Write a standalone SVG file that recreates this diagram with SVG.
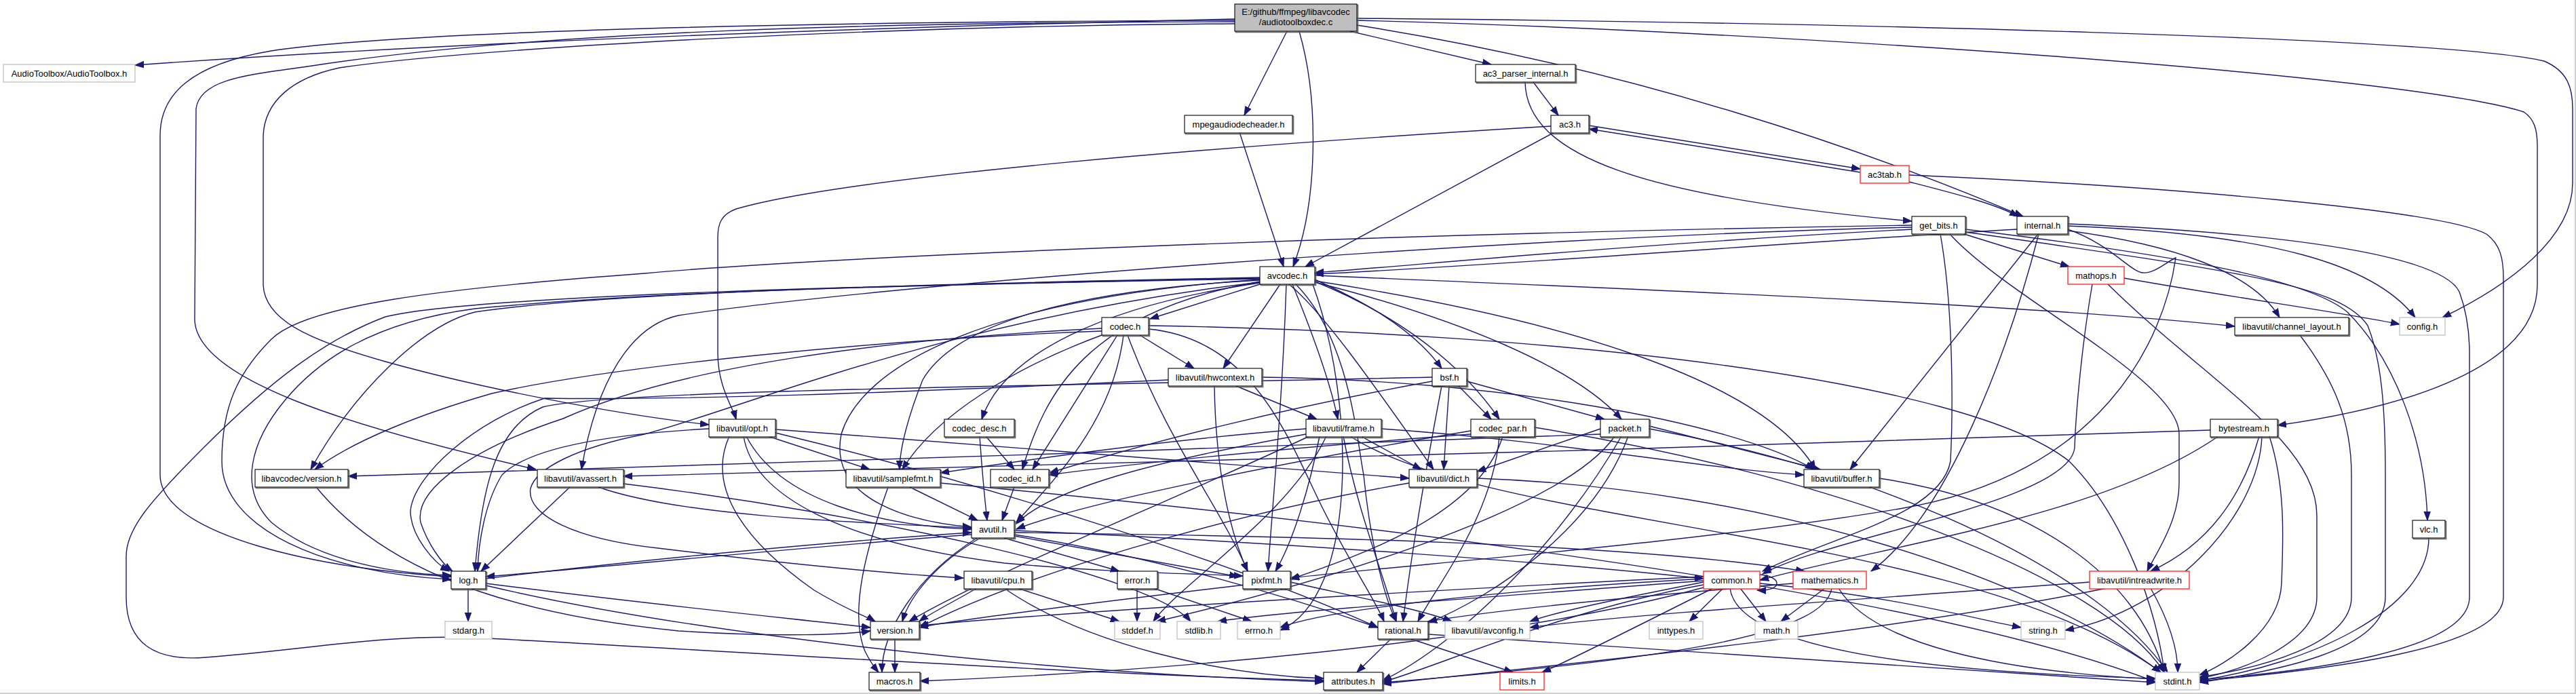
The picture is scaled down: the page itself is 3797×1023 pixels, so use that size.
<svg xmlns="http://www.w3.org/2000/svg" width="3797" height="1023" viewBox="0 0 3797 1023">
<defs>
<style>
.e path{fill:none;stroke:#191970;stroke-width:1.4;marker-end:url(#a)}
.bx{fill:#fff;stroke:#000;stroke-width:1.1}
.sh{fill:none;stroke:#666;stroke-width:1.6}
.gx{fill:#fff;stroke:#c0c0c0;stroke-width:1.3}
.rx{fill:#fff;stroke:#ff2020;stroke-width:1.3}
.mx{fill:#bfbfbf;stroke:#000;stroke-width:1.1}
text{font-family:"Liberation Sans",Arial,Helvetica,sans-serif;font-size:13px;text-anchor:middle;fill:#000}
</style>
<marker id="a" markerWidth="14" markerHeight="11" refX="13" refY="5.5" orient="auto" markerUnits="userSpaceOnUse"><path d="M0,0.8 L13,5.5 L0,10.2 z" fill="#191970" stroke="#191970" stroke-width="1"/></marker>
</defs>
<rect x="0" y="0" width="3797" height="1023" fill="#fff"/>
<path d="M0,1022 H3796 V0" fill="none" stroke="#c0c0c0" stroke-width="1.5"/>
<g class="e" id="edges">
<path d="M1820,28 C1300,40 700,60 199,96"/>
<path d="M1820,30 C1200,32 600,45 400,75 C280,95 236,140 236,200 L236,700 C236,790 480,840 665,850"/>
<path d="M1820,32 C1300,33 800,45 460,97 C370,110 295,115 289,160 L287,470 C287,560 520,630 790,692"/>
<path d="M1820,35 C1300,38 700,70 500,100 C430,115 390,150 388,200 L388,420 C390,470 450,500 568,533 C700,570 900,610 1045,626"/>
<path d="M1897,46 L1834,170"/>
<path d="M1915,46 C1945,150 1942,300 1906,393"/>
<path d="M1990,46 L2198,95"/>
<path d="M2000,37 C2400,100 2750,220 2982,319"/>
<path d="M2000,27 C2700,33 3600,55 3750,90 C3785,105 3792,130 3792,160 L3792,270 C3792,350 3700,420 3600,468"/>
<path d="M2000,30 C2600,45 3550,110 3720,165 C3735,175 3740,190 3740,215 L3740,420 C3740,540 3550,600 3357,627"/>
<path d="M1827,195 L1892,393"/>
<path d="M2260,121 L2297,170"/>
<path d="M2248,121 C2250,230 2420,290 2818,326"/>
<path d="M2291,195 L1924,393"/>
<path d="M2286,186 C1800,215 1250,260 1085,308 C1063,316 1058,330 1058,350 L1058,520 C1058,570 1080,600 1085,618"/>
<path d="M2342,185 L2742,249"/>
<path d="M2742,254 L2342,190"/>
<path d="M2814,268 C2880,285 2940,300 2975,319"/>
<path d="M2814,258 C3200,275 3600,310 3665,345 C3685,360 3690,380 3690,410 L3690,880 C3690,960 3400,990 3242,1004"/>
<path d="M2818,338 C2400,360 2100,390 1938,402"/>
<path d="M2818,332 C2000,345 1200,380 950,403 C650,425 450,450 400,500 C350,550 327,600 327,680 C327,780 480,845 665,854"/>
<path d="M2818,335 C2200,350 1300,420 1000,465 C930,480 880,560 857,692"/>
<path d="M2860,345 C2879,450 2879,600 2875,680 C2860,760 2700,790 2598,842"/>
<path d="M2874,345 C2960,440 3212,560 3212,640 L3212,712 C3212,770 3175,820 3165,842"/>
<path d="M2895,345 L3050,393"/>
<path d="M2897,338 C3200,375 3400,410 3460,460 C3530,530 3575,650 3578,767"/>
<path d="M2897,342 C3300,400 3450,420 3490,480 C3510,530 3516,600 3516,700 L3516,880 C3516,960 3350,990 3242,1006"/>
<path d="M2973,338 C2600,360 2200,392 1938,404"/>
<path d="M3004,345 L2727,692"/>
<path d="M3005,345 C2960,520 2870,760 2758,842"/>
<path d="M3048,340 C3200,360 3320,400 3360,468"/>
<path d="M3048,333 C3350,345 3500,390 3560,468"/>
<path d="M3048,330 C3400,345 3600,380 3625,430 C3636,460 3640,490 3640,520 L3640,880 C3640,960 3400,990 3242,1002"/>
<path d="M3048,338 C3110,360 3140,400 3158,402 C3175,404 3195,385 3207,380 C3190,500 3100,700 2800,750 C2500,800 2100,830 1902,852"/>
<path d="M3131,410 C3300,440 3450,460 3537,478"/>
<path d="M3084,419 C3070,500 3060,600 3058,660 C3050,740 2700,790 2598,846"/>
<path d="M3107,419 C3250,560 3415,650 3415,760 L3415,880 C3415,950 3300,990 3242,1000"/>
<path d="M1857,419 L1695,470"/>
<path d="M1887,419 L1803,543"/>
<path d="M1896,419 C1890,600 1875,750 1869,842"/>
<path d="M1905,419 C1930,480 1960,560 1972,618"/>
<path d="M1857,417 C1630,450 1480,520 1447,618"/>
<path d="M1857,415 C1600,460 1540,580 1507,692"/>
<path d="M1857,413 C1540,430 1400,490 1360,560 C1340,610 1326,660 1326,692"/>
<path d="M1857,412 C1450,440 1270,540 1240,640 C1220,740 1350,770 1432,777"/>
<path d="M1857,410 C1500,418 1000,425 700,455 C550,475 470,530 420,590 C370,650 350,720 400,770 C460,820 560,845 665,848"/>
<path d="M1857,409 C1400,418 900,430 700,460 C620,480 520,580 458,692"/>
<path d="M1857,411 C1300,420 700,435 568,467 C480,500 400,560 300,660 C220,740 186,780 186,820 L186,880 C186,950 230,975 303,969 C450,958 560,935 700,940 C1000,955 1600,995 1951,1003"/>
<path d="M1935,419 C2000,600 2000,880 1887,929"/>
<path d="M1938,414 C2300,470 2600,560 2676,692"/>
<path d="M1857,416 C1400,470 1100,600 950,640 C850,660 790,690 782,720 C775,760 850,795 970,808 C1150,830 1300,845 1420,852"/>
<path d="M1938,406 C2500,430 3000,450 3294,481"/>
<path d="M1900,419 C1950,460 2020,560 2113,692"/>
<path d="M1910,419 C1990,500 2000,650 2010,700 C2020,800 2040,880 2058,916"/>
<path d="M1938,412 C2000,440 2080,480 2125,543"/>
<path d="M1938,415 C2050,460 2150,530 2210,618"/>
<path d="M1938,416 C2150,470 2320,540 2390,618"/>
<path d="M1693,480 C2300,490 2900,560 3050,680 C3130,760 3180,900 3190,991"/>
<path d="M1656,494 C1640,620 1560,700 1498,770"/>
<path d="M1680,494 L1760,543"/>
<path d="M1624,484 C1300,500 1000,540 830,617 C700,660 610,720 620,770 C630,800 650,830 667,842"/>
<path d="M1662,494 C1720,650 1800,750 1839,842"/>
<path d="M1693,485 C1850,500 1900,650 1950,750 C1990,830 2030,890 2040,916"/>
<path d="M1624,494 C1500,540 1380,610 1330,692"/>
<path d="M1647,494 L1522,692"/>
<path d="M1624,488 C1300,500 900,540 725,580 C620,610 520,650 464,692"/>
<path d="M1860,556 C2200,560 2550,620 2674,692"/>
<path d="M1822,569 L1941,618"/>
<path d="M1722,560 C1300,580 1000,590 803,587 C700,620 610,700 605,753 C605,790 640,830 662,842"/>
<path d="M1790,569 C1792,700 1815,790 1839,842"/>
<path d="M2136,569 L2128,692"/>
<path d="M2150,569 L2198,618"/>
<path d="M2162,562 L2365,618"/>
<path d="M2111,556 C1500,570 900,575 800,600 C730,630 710,720 700,842"/>
<path d="M2125,569 C2100,700 2080,820 2068,916"/>
<path d="M2111,562 C1900,600 1700,650 1547,697"/>
<path d="M1132,643 L1282,692"/>
<path d="M1100,643 C1150,740 1300,775 1432,780"/>
<path d="M1143,633 C1500,660 1900,690 2077,705"/>
<path d="M1045,632 C900,640 780,660 740,700 C715,740 705,800 704,842"/>
<path d="M1096,643 C1110,730 1240,800 1480,830 C1650,845 1750,845 1832,849"/>
<path d="M1075,643 C1040,720 1100,800 1200,870 C1250,900 1280,910 1290,916"/>
<path d="M1143,638 C1400,700 1800,820 2031,925"/>
<path d="M1453,643 L1495,692"/>
<path d="M1444,643 C1448,700 1452,740 1455,767"/>
<path d="M1925,640 C1700,680 1550,720 1498,772"/>
<path d="M2036,632 C2300,650 2500,690 2659,700"/>
<path d="M2006,643 L2095,692"/>
<path d="M1980,643 C2000,750 2040,850 2058,916"/>
<path d="M1925,632 C1700,650 1500,680 1386,697"/>
<path d="M1945,643 C1930,720 1905,800 1880,842"/>
<path d="M1930,643 C1700,750 1450,850 1340,916"/>
<path d="M1990,643 C2200,780 2900,780 3185,991"/>
<path d="M1955,643 C1900,760 1740,860 1700,916"/>
<path d="M2262,630 C2700,700 3100,850 3190,991"/>
<path d="M2168,635 C1900,680 1600,740 1498,780"/>
<path d="M2210,643 C2200,760 2120,860 2090,916"/>
<path d="M2215,643 C2180,760 2000,820 1902,854"/>
<path d="M2168,640 C1900,660 1700,680 1546,700"/>
<path d="M2380,643 C2300,760 1900,870 1705,916"/>
<path d="M2431,632 C2800,700 3100,850 3195,991"/>
<path d="M2390,643 C2300,800 2150,950 2038,1003"/>
<path d="M2431,628 L2683,692"/>
<path d="M2359,632 L2177,695"/>
<path d="M2400,643 C2350,780 2200,880 2105,918"/>
<path d="M2359,640 C1800,660 1000,690 513,702"/>
<path d="M3258,634 C2500,660 1500,690 919,702"/>
<path d="M3270,643 C3100,760 2800,800 2594,855"/>
<path d="M3330,643 C3300,750 3240,810 3170,842"/>
<path d="M3334,643 C3330,760 3200,900 3044,929"/>
<path d="M3345,643 C3370,720 3365,800 3363,860 C3360,930 3280,980 3242,995"/>
<path d="M3390,494 C3440,560 3466,620 3466,700 L3466,880 C3466,950 3330,985 3242,998"/>
<path d="M466,718 C550,820 700,900 1000,930 C1150,940 1250,935 1283,930"/>
<path d="M840,718 L709,842"/>
<path d="M882,718 C1000,760 1250,770 1432,778"/>
<path d="M919,713 C1300,760 1700,850 1755,916"/>
<path d="M1341,718 L1441,767"/>
<path d="M1386,712 C1900,760 2800,860 3177,1005"/>
<path d="M1309,718 C1280,800 1250,900 1275,960 C1285,980 1290,985 1295,991"/>
<path d="M1495,718 L1477,767"/>
<path d="M2177,705 C2600,720 3000,850 3185,991"/>
<path d="M2077,712 C1800,760 1500,850 1355,925"/>
<path d="M2770,705 C3000,740 3150,850 3190,991"/>
<path d="M1432,788 C1200,805 900,835 716,850"/>
<path d="M716,853 C900,830 1200,800 1432,785"/>
<path d="M1495,782 C1900,800 2300,830 2511,853"/>
<path d="M1480,793 L1650,842"/>
<path d="M1495,788 C1700,820 1900,880 2031,925"/>
<path d="M1445,793 C1380,830 1340,880 1330,916"/>
<path d="M1440,793 C1350,850 1300,930 1300,991"/>
<path d="M1495,785 C1900,790 2400,800 2660,842"/>
<path d="M1495,790 L1825,850"/>
<path d="M690,867 L690,916"/>
<path d="M716,860 C950,890 1150,910 1283,925"/>
<path d="M716,863 C1000,930 1500,990 1951,1005"/>
<path d="M1500,867 L1650,916"/>
<path d="M1480,867 C1600,950 1800,995 1951,1000"/>
<path d="M1440,867 C1400,890 1370,905 1355,916"/>
<path d="M1676,867 L1676,916"/>
<path d="M1700,867 L1845,916"/>
<path d="M1835,862 C1600,890 1400,915 1355,925"/>
<path d="M1902,858 C2000,880 2100,900 2140,916"/>
<path d="M2594,847 C2628,850 2628,872 2590,870"/>
<path d="M2540,867 L2490,916"/>
<path d="M2565,867 L2603,916"/>
<path d="M2525,867 C2400,930 2300,980 2273,991"/>
<path d="M2511,862 C2300,900 2100,990 2038,1005"/>
<path d="M2511,858 C2400,880 2300,900 2255,916"/>
<path d="M2550,867 C2560,950 2800,990 3177,1000"/>
<path d="M2511,856 C2200,880 1900,900 1795,916"/>
<path d="M2511,853 C2200,870 1950,900 1887,925"/>
<path d="M2594,860 C2800,880 2900,910 2979,925"/>
<path d="M2511,866 C2200,950 1700,990 1356,1004"/>
<path d="M2511,850 C2100,870 1600,900 1355,922"/>
<path d="M2690,867 L2625,916"/>
<path d="M2710,867 C2760,950 2950,990 3177,1001"/>
<path d="M2700,867 C2690,930 2500,970 2038,1006"/>
<path d="M2643,860 C2400,880 2200,900 2105,916"/>
<path d="M3170,867 C3200,920 3210,960 3210,991"/>
<path d="M3080,858 C2800,880 2400,905 2255,925"/>
<path d="M3105,867 C2800,930 2300,980 2038,1008"/>
<path d="M1319,942 L1319,991"/>
<path d="M2050,942 L2000,991"/>
<path d="M2080,942 L2230,991"/>
<path d="M2105,935 C2500,960 2900,990 3177,1006"/>
<path d="M3580,793 C3580,900 3400,980 3242,1003"/>
</g>
<g id="n_main"><rect class="sh" x="1821.5" y="7.5" width="180" height="40"/><rect class="mx" x="1820" y="6" width="180" height="40"/><text x="1910" y="22">E:/github/ffmpeg/libavcodec</text><text x="1910" y="37">/audiotoolboxdec.c</text></g>
<g id="n_audiotoolbox"><rect class="gx" x="5" y="95" width="194" height="26"/><text x="102" y="112.5">AudioToolbox/AudioToolbox.h</text></g>
<g id="n_mpegaudiodecheader"><rect class="sh" x="1747.5" y="171.5" width="159" height="26"/><rect class="bx" x="1746" y="170" width="159" height="26"/><text x="1825.5" y="187.5">mpegaudiodecheader.h</text></g>
<g id="n_ac3_parser_internal"><rect class="sh" x="2176.5" y="96.5" width="147" height="26"/><rect class="bx" x="2175" y="95" width="147" height="26"/><text x="2248.5" y="112.5">ac3_parser_internal.h</text></g>
<g id="n_ac3"><rect class="sh" x="2287.5" y="171.5" width="56" height="26"/><rect class="bx" x="2286" y="170" width="56" height="26"/><text x="2314" y="187.5">ac3.h</text></g>
<g id="n_ac3tab"><rect class="rx" x="2742" y="244" width="72" height="26"/><text x="2778" y="261.5">ac3tab.h</text></g>
<g id="n_get_bits"><rect class="sh" x="2819.5" y="320.5" width="79" height="26"/><rect class="bx" x="2818" y="319" width="79" height="26"/><text x="2857.5" y="336.5">get_bits.h</text></g>
<g id="n_internal"><rect class="sh" x="2974.5" y="320.5" width="75" height="26"/><rect class="bx" x="2973" y="319" width="75" height="26"/><text x="3010.5" y="336.5">internal.h</text></g>
<g id="n_mathops"><rect class="rx" x="3048" y="393" width="83" height="26"/><text x="3089.5" y="410.5">mathops.h</text></g>
<g id="n_avcodec"><rect class="sh" x="1858.5" y="394.5" width="81" height="26"/><rect class="bx" x="1857" y="393" width="81" height="26"/><text x="1897.5" y="410.5">avcodec.h</text></g>
<g id="n_codec"><rect class="sh" x="1625.5" y="469.5" width="69" height="26"/><rect class="bx" x="1624" y="468" width="69" height="26"/><text x="1658.5" y="485.5">codec.h</text></g>
<g id="n_channel_layout"><rect class="sh" x="3295.5" y="469.5" width="168" height="26"/><rect class="bx" x="3294" y="468" width="168" height="26"/><text x="3378" y="485.5">libavutil/channel_layout.h</text></g>
<g id="n_config"><rect class="gx" x="3537" y="468" width="67" height="26"/><text x="3570.5" y="485.5">config.h</text></g>
<g id="n_hwcontext"><rect class="sh" x="1723.5" y="544.5" width="138" height="26"/><rect class="bx" x="1722" y="543" width="138" height="26"/><text x="1791" y="560.5">libavutil/hwcontext.h</text></g>
<g id="n_bsf"><rect class="sh" x="2112.5" y="544.5" width="51" height="26"/><rect class="bx" x="2111" y="543" width="51" height="26"/><text x="2136.5" y="560.5">bsf.h</text></g>
<g id="n_opt"><rect class="sh" x="1046.5" y="619.5" width="98" height="26"/><rect class="bx" x="1045" y="618" width="98" height="26"/><text x="1094" y="635.5">libavutil/opt.h</text></g>
<g id="n_codec_desc"><rect class="sh" x="1393.5" y="619.5" width="103" height="26"/><rect class="bx" x="1392" y="618" width="103" height="26"/><text x="1443.5" y="635.5">codec_desc.h</text></g>
<g id="n_frame"><rect class="sh" x="1926.5" y="619.5" width="111" height="26"/><rect class="bx" x="1925" y="618" width="111" height="26"/><text x="1980.5" y="635.5">libavutil/frame.h</text></g>
<g id="n_codec_par"><rect class="sh" x="2169.5" y="619.5" width="94" height="26"/><rect class="bx" x="2168" y="618" width="94" height="26"/><text x="2215" y="635.5">codec_par.h</text></g>
<g id="n_packet"><rect class="sh" x="2360.5" y="619.5" width="72" height="26"/><rect class="bx" x="2359" y="618" width="72" height="26"/><text x="2395" y="635.5">packet.h</text></g>
<g id="n_bytestream"><rect class="sh" x="3259.5" y="619.5" width="99" height="26"/><rect class="bx" x="3258" y="618" width="99" height="26"/><text x="3307.5" y="635.5">bytestream.h</text></g>
<g id="n_lavc_version"><rect class="sh" x="377.5" y="693.5" width="137" height="26"/><rect class="bx" x="376" y="692" width="137" height="26"/><text x="444.5" y="709.5">libavcodec/version.h</text></g>
<g id="n_avassert"><rect class="sh" x="793.5" y="693.5" width="127" height="26"/><rect class="bx" x="792" y="692" width="127" height="26"/><text x="855.5" y="709.5">libavutil/avassert.h</text></g>
<g id="n_samplefmt"><rect class="sh" x="1248.5" y="693.5" width="139" height="26"/><rect class="bx" x="1247" y="692" width="139" height="26"/><text x="1316.5" y="709.5">libavutil/samplefmt.h</text></g>
<g id="n_codec_id"><rect class="sh" x="1461.5" y="693.5" width="86" height="26"/><rect class="bx" x="1460" y="692" width="86" height="26"/><text x="1503" y="709.5">codec_id.h</text></g>
<g id="n_dict"><rect class="sh" x="2078.5" y="693.5" width="100" height="26"/><rect class="bx" x="2077" y="692" width="100" height="26"/><text x="2127" y="709.5">libavutil/dict.h</text></g>
<g id="n_buffer"><rect class="sh" x="2660.5" y="693.5" width="111" height="26"/><rect class="bx" x="2659" y="692" width="111" height="26"/><text x="2714.5" y="709.5">libavutil/buffer.h</text></g>
<g id="n_avutil"><rect class="sh" x="1433.5" y="768.5" width="63" height="26"/><rect class="bx" x="1432" y="767" width="63" height="26"/><text x="1463.5" y="784.5">avutil.h</text></g>
<g id="n_vlc"><rect class="sh" x="3557.5" y="768.5" width="48" height="26"/><rect class="bx" x="3556" y="767" width="48" height="26"/><text x="3580" y="784.5">vlc.h</text></g>
<g id="n_log"><rect class="sh" x="666.5" y="843.5" width="51" height="26"/><rect class="bx" x="665" y="842" width="51" height="26"/><text x="690.5" y="859.5">log.h</text></g>
<g id="n_cpu"><rect class="sh" x="1422.5" y="843.5" width="100" height="26"/><rect class="bx" x="1421" y="842" width="100" height="26"/><text x="1471" y="859.5">libavutil/cpu.h</text></g>
<g id="n_error"><rect class="sh" x="1648.5" y="843.5" width="59" height="26"/><rect class="bx" x="1647" y="842" width="59" height="26"/><text x="1676.5" y="859.5">error.h</text></g>
<g id="n_pixfmt"><rect class="sh" x="1833.5" y="843.5" width="70" height="26"/><rect class="bx" x="1832" y="842" width="70" height="26"/><text x="1867" y="859.5">pixfmt.h</text></g>
<g id="n_common"><rect class="rx" x="2511" y="842" width="83" height="26"/><text x="2552.5" y="859.5">common.h</text></g>
<g id="n_mathematics"><rect class="rx" x="2643" y="842" width="108" height="26"/><text x="2697" y="859.5">mathematics.h</text></g>
<g id="n_intreadwrite"><rect class="rx" x="3080" y="842" width="147" height="26"/><text x="3153.5" y="859.5">libavutil/intreadwrite.h</text></g>
<g id="n_stdarg"><rect class="gx" x="656" y="916" width="69" height="26"/><text x="690.5" y="933.5">stdarg.h</text></g>
<g id="n_version"><rect class="sh" x="1284.5" y="917.5" width="72" height="26"/><rect class="bx" x="1283" y="916" width="72" height="26"/><text x="1319" y="933.5">version.h</text></g>
<g id="n_stddef"><rect class="gx" x="1643" y="916" width="67" height="26"/><text x="1676.5" y="933.5">stddef.h</text></g>
<g id="n_stdlib"><rect class="gx" x="1735" y="916" width="64" height="26"/><text x="1767" y="933.5">stdlib.h</text></g>
<g id="n_errno"><rect class="gx" x="1824" y="916" width="63" height="26"/><text x="1855.5" y="933.5">errno.h</text></g>
<g id="n_rational"><rect class="sh" x="2032.5" y="917.5" width="74" height="26"/><rect class="bx" x="2031" y="916" width="74" height="26"/><text x="2068" y="933.5">rational.h</text></g>
<g id="n_avconfig"><rect class="gx" x="2130" y="916" width="125" height="26"/><text x="2192.5" y="933.5">libavutil/avconfig.h</text></g>
<g id="n_inttypes"><rect class="gx" x="2431" y="916" width="79" height="26"/><text x="2470.5" y="933.5">inttypes.h</text></g>
<g id="n_math"><rect class="gx" x="2587" y="916" width="63" height="26"/><text x="2618.5" y="933.5">math.h</text></g>
<g id="n_string"><rect class="gx" x="2979" y="916" width="65" height="26"/><text x="3011.5" y="933.5">string.h</text></g>
<g id="n_macros"><rect class="sh" x="1282.5" y="992.5" width="75" height="26"/><rect class="bx" x="1281" y="991" width="75" height="26"/><text x="1318.5" y="1008.5">macros.h</text></g>
<g id="n_attributes"><rect class="sh" x="1952.5" y="992.5" width="87" height="26"/><rect class="bx" x="1951" y="991" width="87" height="26"/><text x="1994.5" y="1008.5">attributes.h</text></g>
<g id="n_limits"><rect class="rx" x="2211" y="991" width="65" height="26"/><text x="2243.5" y="1008.5">limits.h</text></g>
<g id="n_stdint"><rect class="gx" x="3177" y="991" width="65" height="26"/><text x="3209.5" y="1008.5">stdint.h</text></g>
</svg>
